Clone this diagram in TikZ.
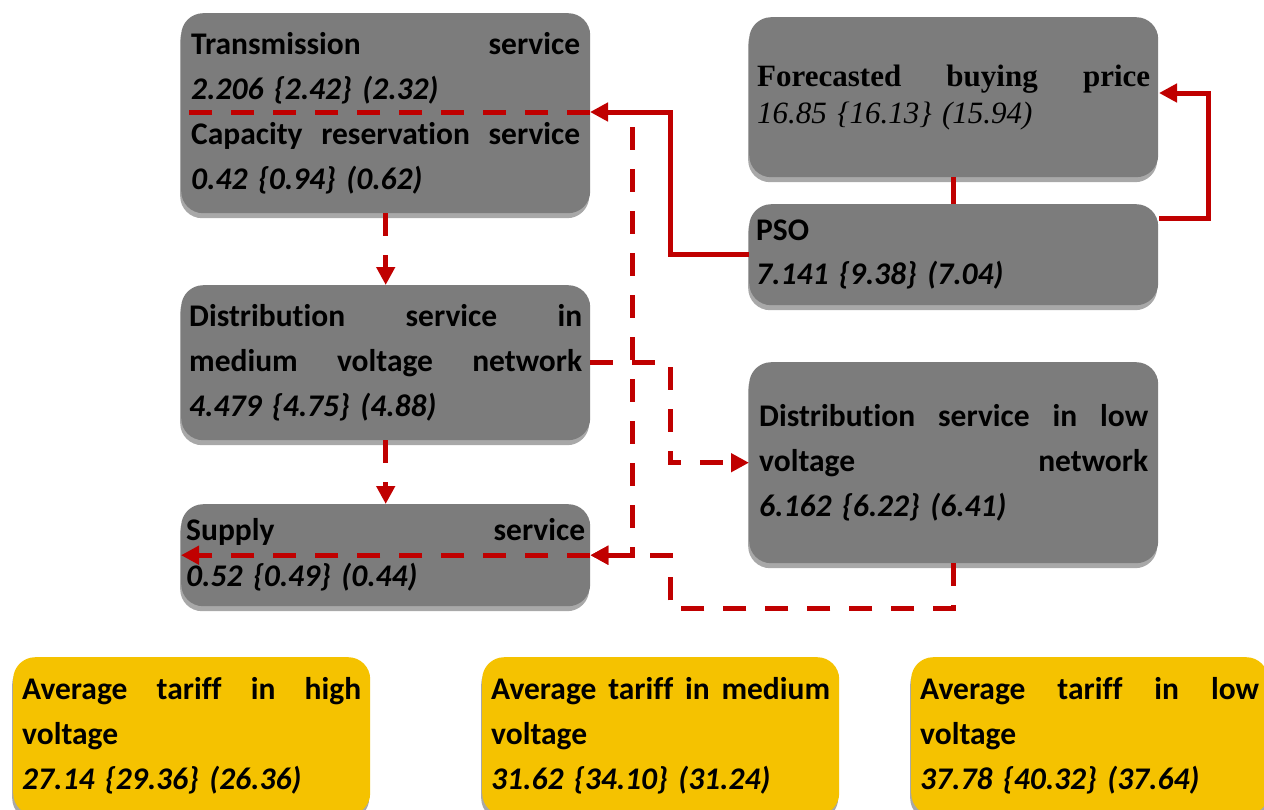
\documentclass[tikz,border=0pt]{standalone}
\usepackage{fontspec}
\setmainfont{Carlito}[Ligatures=NoCommon]
\newfontfamily\tnr{Liberation Serif}[Ligatures=NoCommon]
\usetikzlibrary{arrows.meta,shadows}
\definecolor{boxgray}{RGB}{124,124,124}
\definecolor{shadowgray}{RGB}{168,168,168}
\definecolor{boxyellow}{RGB}{245,194,0}
\definecolor{linered}{RGB}{192,0,0}
\begin{document}
\begin{tikzpicture}[x=1pt,y=-1pt,
  basebox/.style={draw=none, rounded corners=22pt, anchor=north west,
    inner xsep=10pt, inner ysep=0pt, align=left,
    font=\fontsize{31.5}{45}\selectfont\bfseries,
    drop shadow={shadow xshift=-1pt, shadow yshift=-5pt, fill=shadowgray, opacity=1}},
  graybox/.style={basebox, fill=boxgray, text width=389pt},
  yellowbox/.style={basebox, fill=boxyellow, inner xsep=9pt, text width=339pt},
  redline/.style={draw=linered, line width=5pt},
  reddash/.style={redline, dash pattern=on 23pt off 19pt},
  tip/.style={-{Triangle[length=18pt,width=18pt]}}]
\clip (0,0) rectangle (1264,809);
\fill[white] (0,0) rectangle (1264,809);

% boxes
\node[graybox, minimum height=200pt] (tl) at (181,13)
  {Transmission\hfill service\\
   \textit{2.206 \{2.42\} (2.32)}\\
   Capacity\hfill reservation\hfill service\\
   \textit{0.42 \{0.94\} (0.62)}};
\node[graybox, minimum height=160pt, inner xsep=8pt, text width=393pt,
      font=\tnr\fontsize{31}{37}\selectfont\bfseries] (fc) at (749,17)
  {Forecasted\hfill buying\hfill price\\
   \textit{\mdseries 16.85 \{16.13\} (15.94)}};
\node[graybox, minimum height=101pt, inner xsep=7pt, text width=395pt,
      font=\fontsize{31.5}{44}\selectfont\bfseries] (pso) at (749,204)
  {PSO\\
   \textit{7.141 \{9.38\} (7.04)}};
\node[graybox, minimum height=155pt, inner xsep=8pt, text width=393pt] (dm) at (181,285)
  {Distribution\hfill service\hfill in\\
   medium\hfill voltage\hfill network\\
   \textit{4.479 \{4.75\} (4.88)}};
\node[graybox, minimum height=201pt] (dl) at (749,362)
  {Distribution\hfill service\hfill in\hfill low\\
   voltage\hfill network\\
   \textit{6.162 \{6.22\} (6.41)}};
\node[graybox, minimum height=102pt, inner xsep=5pt, text width=399pt,
      font=\fontsize{31.5}{46}\selectfont\bfseries] (su) at (181,504)
  {Supply\hfill service\\
   \textit{0.52 \{0.49\} (0.44)}};

\node[yellowbox, minimum height=158pt] (y1) at (13,657)
  {Average\hfill tariff\hfill in\hfill high\\
   voltage\\
   \textit{27.14 \{29.36\} (26.36)}};
\node[yellowbox, minimum height=158pt] (y2) at (482,657)
  {Average\hfill tariff\hfill in\hfill medium\\
   voltage\\
   \textit{31.62 \{34.10\} (31.24)}};
\node[yellowbox, minimum height=158pt] (y3) at (911,657)
  {Average\hfill tariff\hfill in\hfill low\\
   voltage\\
   \textit{37.78 \{40.32\} (37.64)}};

% connector end points on box edges
\coordinate (tlR) at (590,112);
\coordinate (tlL) at (183,112);
\coordinate (fcR) at (1159,93);
\coordinate (psoR) at (1159,218);
\coordinate (split) at (632,112);

% solid connectors
\draw[redline] (fc.south) -- (pso.north);
\draw[redline, tip] (pso.west) -| (670,180) |- (tlR);
\draw[redline, tip] (psoR) -| (1208,150) |- (fcR);

% dashed connectors
\draw[reddash] (tlR) -- (tlL);
\draw[reddash, tip] (tl.south) -- (dm.north);
\draw[reddash, tip] (dm.south) -- (su.north);
\draw[reddash, tip] (dm.east) -| (670,420) |- (dl.west);
\draw[reddash, tip] ([yshift=-15pt]split) |- (su.east);
\draw[reddash, tip] (dl.south) |- (670,608) |- (su.east);
\draw[reddash, tip] (su.east) -- (su.west);
\end{tikzpicture}
\end{document}
